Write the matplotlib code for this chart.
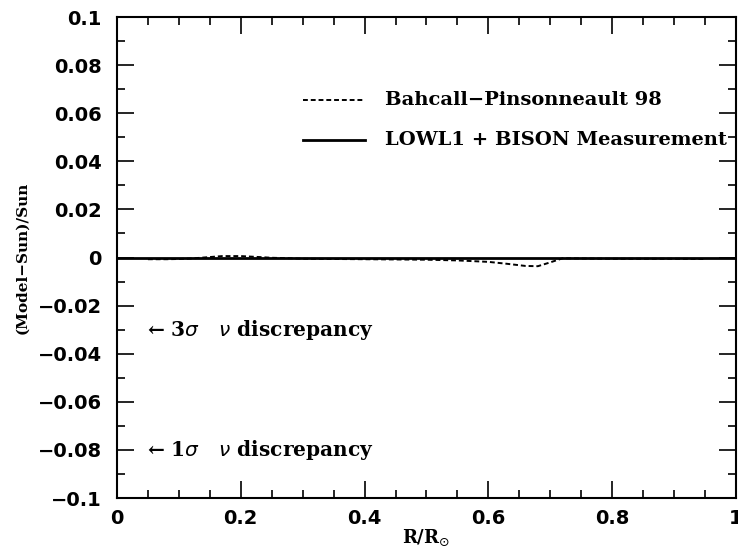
import numpy as np
import matplotlib.pyplot as plt
from matplotlib.ticker import MultipleLocator

# dashed model curve (Bahcall-Pinsonneault 98)
r_model = [0.05, 0.08, 0.10, 0.12, 0.15, 0.17, 0.20, 0.23, 0.25, 0.28, 0.30,
           0.35, 0.40, 0.45, 0.50, 0.55, 0.60, 0.63, 0.66, 0.68, 0.70, 0.72,
           0.75, 0.80, 0.85, 0.90, 0.95]
d_model = [-0.0007, -0.0007, -0.0006, -0.0004, 0.0002, 0.0006, 0.0006, 0.0002,
           -0.0001, -0.0003, -0.0005, -0.0006, -0.0007, -0.0008, -0.0009, -0.0012,
           -0.0018, -0.0026, -0.0035, -0.0036, -0.0020, -0.0003, -0.0004,
           -0.0005, -0.0005, -0.0005, -0.0006]

# measurement reference line
r_sun = [0.0, 1.0]
d_sun = [0.0, 0.0]

xticks = [0, 0.2, 0.4, 0.6, 0.8, 1]
xlabels = ["0", "0.2", "0.4", "0.6", "0.8", "1"]
yticks = [0.1, 0.08, 0.06, 0.04, 0.02, 0, -0.02, -0.04, -0.06, -0.08, -0.1]
ylabels = ["0.1", "0.08", "0.06", "0.04", "0.02", "0",
           "\u22120.02", "\u22120.04", "\u22120.06", "\u22120.08", "\u22120.1"]

fig = plt.figure(figsize=(7.38, 5.5), dpi=100)
ax = fig.add_axes([0.1585, 0.0945, 0.8388, 0.8745])

ax.plot(r_model, d_model, color="black", lw=1.4, ls=(0, (2.5, 1.5)))
ax.plot(r_sun, d_sun, color="black", lw=2.0)

ax.set_xlim(0, 1)
ax.set_ylim(-0.1, 0.1)
ax.set_xticks(xticks)
ax.set_xticklabels(xlabels)
ax.set_yticks(yticks)
ax.set_yticklabels(ylabels)
ax.xaxis.set_minor_locator(MultipleLocator(0.05))
ax.yaxis.set_minor_locator(MultipleLocator(0.01))
ax.tick_params(which="both", direction="in", top=True, right=True, width=1.2)
ax.tick_params(which="major", length=12, labelsize=14)
ax.tick_params(axis="y", which="major", pad=11)
ax.tick_params(axis="x", which="major", pad=8)
ax.tick_params(which="minor", length=6)
for lab in ax.get_xticklabels() + ax.get_yticklabels():
    lab.set_fontweight("bold")
for s in ax.spines.values():
    s.set_linewidth(1.5)

serif = dict(family="DejaVu Serif", fontweight="bold", fontsize=14)
ax.set_xlabel(r"R/R$_{\odot}$", labelpad=0, family="DejaVu Serif",
              fontweight="bold", fontsize=13)
ax.set_ylabel("(Model\u2212Sun)/Sun", labelpad=6, fontsize=11,
              family="DejaVu Serif", fontweight="bold")

# hand-made legend
ax.plot([0.30, 0.40], [0.0655, 0.0655], color="black", lw=1.4, ls=(0, (2.5, 1.5)))
ax.plot([0.30, 0.40], [0.049, 0.049], color="black", lw=2.0)
ax.text(0.433, 0.0655, "Bahcall\u2212Pinsonneault 98", va="center", **serif)
ax.text(0.433, 0.049, "LOWL1 + BISON Measurement", va="center", **serif)

ax.text(0.048, -0.03, "\u2190 3$\\sigma$   $\\nu$ discrepancy", va="center",
        family="DejaVu Serif", fontweight="bold", fontsize=14.5)
ax.text(0.048, -0.08, "\u2190 1$\\sigma$   $\\nu$ discrepancy", va="center",
        family="DejaVu Serif", fontweight="bold", fontsize=14.5)

fig.savefig("out.png", dpi=100)
